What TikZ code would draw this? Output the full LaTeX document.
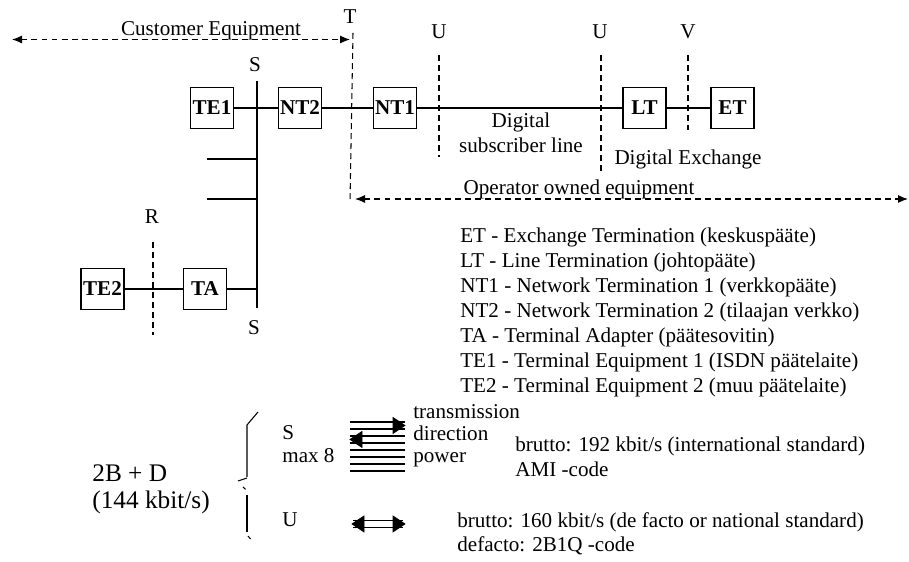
\documentclass[tikz,border=0pt,12pt]{standalone}
\usepackage{fontspec}
\setmainfont{Liberation Serif}
\usetikzlibrary{arrows.meta, positioning}

\begin{document}
\begin{tikzpicture}[
    box/.style={draw, line width=0.7pt, font=\bfseries, minimum width=0.86cm, minimum height=0.82cm, inner sep=1pt},
    wire/.style={line width=0.6pt},
    cut/.style={line width=0.6pt, dash pattern=on 3.4pt off 2.3pt},
    span/.style={cut, {Latex[length=2mm,width=1.6mm]}-{Latex[length=2mm,width=1.6mm]}},
    head/.style={fill=black, draw=black, line width=0.4pt},
    lbl/.style={anchor=base, inner sep=0pt},
    txt/.style={anchor=base west, inner sep=0pt}
]
\useasboundingbox (0,0) rectangle (18.18,11.24);

\node[lbl] (cust) at (4.22,10.52) {Customer Equipment};
\coordinate (custL) at (0.24,10.45);
\coordinate (custR) at (7.0,10.45);
\draw[span] (custL) -- (custR);

\node[lbl] (T) at (7.0,10.76) {T};
\node[lbl] (U1) at (8.78,10.46) {U};
\node[lbl] (U2) at (12.0,10.46) {U};
\node[lbl] (V) at (13.76,10.46) {V};

\coordinate (tTop) at (7.06,10.58);
\coordinate (tBot) at (7.0,7.2);
\draw[cut] (tTop) -- (tBot);
\coordinate (u1Top) at (8.78,10.14);
\coordinate (u1Bot) at (8.78,8.1);
\draw[cut] (u1Top) -- (u1Bot);
\coordinate (u2Top) at (12.02,10.14);
\coordinate (u2Bot) at (12.02,7.78);
\draw[cut] (u2Top) -- (u2Bot);
\coordinate (vTop) at (13.76,10.14);
\coordinate (vBot) at (13.76,8.64);
\draw[cut] (vTop) -- (vBot);

\node[box] (te1) at (4.24,9.08) {TE1};
\node[box] (nt2) at (6.0,9.08) {NT2};
\node[box] (nt1) at (7.9,9.08) {NT1};
\node[box] (lt) at (12.89,9.08) {LT};
\node[box] (et) at (14.65,9.08) {ET};
\draw[wire] (te1) -- (nt2) -- (nt1) -- (lt) -- (et);

\node[lbl] (dsl) at (10.42,8.68) {Digital};
\node[lbl] (dsl2) at (10.42,8.18) {subscriber line};
\node[lbl] (dex) at (13.76,7.94) {Digital Exchange};

\coordinate (opL) at (7.1,7.26);
\coordinate (opR) at (18.16,7.26);
\draw[span] (opL) -- (opR);
\node[lbl] (oper) at (11.58,7.34) {Operator owned equipment};

% S bus
\coordinate (sTop) at (5.14,9.62);
\coordinate (sBot) at (5.14,5.08);
\draw[wire] (sTop) -- (sBot);
\node[lbl] (sUp) at (5.1,9.8) {S};
\node[lbl] (sDn) at (5.08,4.54) {S};
\coordinate (stub1) at (4.14,8.06);
\coordinate (stub2) at (4.14,7.26);
\draw[wire] (stub1) -- (stub1 -| sTop);
\draw[wire] (stub2) -- (stub2 -| sTop);

\node[box] (te2) at (2.05,5.46) {TE2};
\node[box] (ta) at (4.1,5.46) {TA};
\draw[wire] (te2) -- (ta);
\draw[wire] (ta) -- (ta -| sTop);
\node[lbl] (R) at (3.04,6.76) {R};
\coordinate (rTop) at (3.06,6.4);
\coordinate (rBot) at (3.06,4.54);
\draw[cut] (rTop) -- (rBot);

\foreach \entry [count=\i] in {ET - Exchange Termination (keskuspääte),
    LT - Line Termination (johtopääte),
    NT1 - Network Termination 1 (verkkopääte),
    NT2 - Network Termination 2 (tilaajan verkko),
    TA - Terminal Adapter (päätesovitin),
    TE1 - Terminal Equipment 1 (ISDN päätelaite),
    TE2 - Terminal Equipment 2 (muu päätelaite)}
  \node[txt] (leg\i) at (9.2,{6.88-0.5*\i}) {\entry};

% interfaces
\node[txt, font=\large] (rate) at (1.84,1.6) {2B + D};
\node[txt, font=\large] (rate2) at (1.84,1.06) {(144 kbit/s)};
\draw[wire] (5.16,3.0) -- (4.94,2.74) -- (4.94,1.7);
\draw[wire] (4.76,1.62) -- (4.94,1.68);
\draw[wire] (4.86,1.5) -- (4.91,1.45);
\draw[wire] (4.94,1.34) -- (4.94,0.6);
\draw[wire] (4.96,0.52) -- (5.01,0.46);

\node[txt] (sIf) at (5.64,2.44) {S};
\node[txt] (sMax) at (5.64,1.98) {max 8};
\node[txt] (uIf) at (5.64,0.70) {U};

\foreach \y in {2.8,2.66,2.52,2.38,2.24,2.10,1.96,1.82}
  \draw[wire] (7.0,\y) -- (8.1,\y);
\path[head] (7.86,2.89) -- (8.1,2.73) -- (7.86,2.57) -- cycle;
\path[head] (7.24,2.61) -- (7.0,2.45) -- (7.24,2.29) -- cycle;

\draw[wire] (7.06,0.826) -- (8.06,0.826);
\draw[wire] (7.06,0.694) -- (8.06,0.694);
\path[head] (7.28,0.92) -- (7.04,0.76) -- (7.28,0.60) -- cycle;
\path[head] (7.86,0.92) -- (8.1,0.76) -- (7.86,0.60) -- cycle;

\node[txt] (trans) at (8.26,2.86) {transmission};
\node[txt] (dir) at (8.26,2.42) {direction};
\node[txt] (pow) at (8.26,1.98) {power};
\node[txt] (bS) at (10.3,2.2) {brutto: 192 kbit/s (international standard)};
\node[txt] (cS) at (10.3,1.7) {AMI -code};
\node[txt] (bU) at (9.14,0.68) {brutto: 160 kbit/s (de facto or national standard)};
\node[txt] (cU) at (9.14,0.2) {defacto: 2B1Q -code};

\end{tikzpicture}
\end{document}
